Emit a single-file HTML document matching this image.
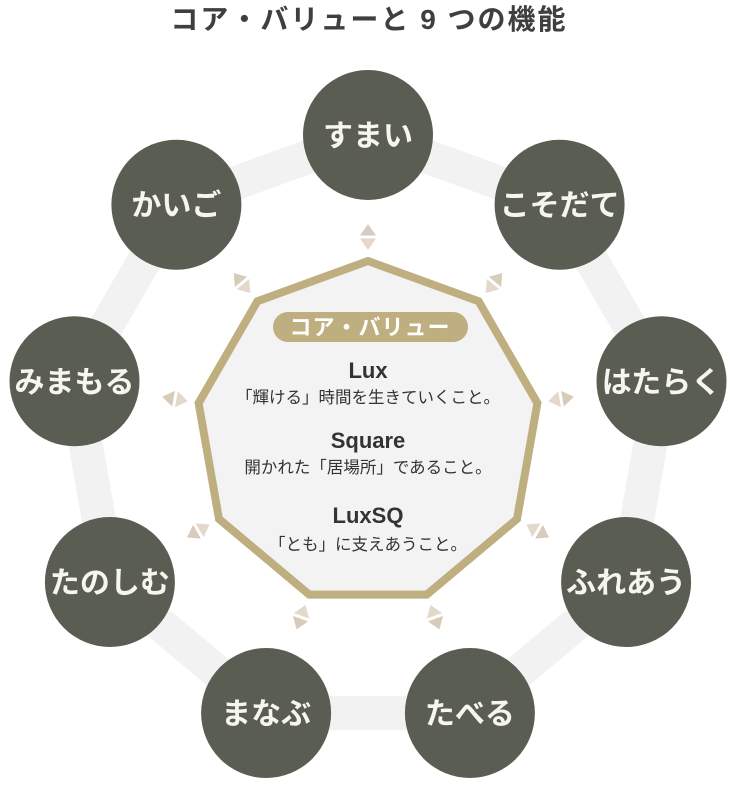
<!DOCTYPE html>
<html><head><meta charset="utf-8"><style>
html,body{margin:0;padding:0;background:#fff;}
svg{display:block;}
text{font-family:"Liberation Sans","Noto Sans CJK JP",sans-serif;}
</style></head><body>
<svg width="736" height="788" viewBox="0 0 736 788" xmlns="http://www.w3.org/2000/svg">
<text x="369" y="29" text-anchor="middle" font-size="28" font-weight="bold" fill="#3f3f3f" letter-spacing="2">コア・バリューと 9 つの機能</text>
<polygon points="368,135 559.6,204.7 661.5,381.3 626.1,582 469.9,713 266.1,713 109.9,582 74.5,381.3 176.4,204.7" fill="none" stroke="#f2f2f2" stroke-width="34" stroke-linejoin="round"/>
<polygon points="368,261 478.6,301.2 537.4,403.1 517,519 426.8,594.6 309.2,594.6 219,519 198.6,403.1 257.4,301.2" fill="#f3f3f3" stroke="#bfae7f" stroke-width="8" stroke-linejoin="miter"/>
<defs>
<g id="ar"><polygon points="0,-13 -8,-1.5 8,-1.5" fill="#d8cbbb"/><polygon points="0,13 -8,1.5 8,1.5" fill="#e2d8cc"/></g>
</defs>
<use href="#ar" transform="translate(368,237) rotate(0)"/>
<use href="#ar" transform="translate(494,283) rotate(40)"/>
<use href="#ar" transform="translate(561,399) rotate(80)"/>
<use href="#ar" transform="translate(537.7,531) rotate(120)"/>
<use href="#ar" transform="translate(435,617.2) rotate(160)"/>
<use href="#ar" transform="translate(301,617.2) rotate(200)"/>
<use href="#ar" transform="translate(198.3,531) rotate(240)"/>
<use href="#ar" transform="translate(175,399) rotate(280)"/>
<use href="#ar" transform="translate(242,283) rotate(320)"/>
<g fill="#595d52">
<circle cx="368" cy="135" r="65"/><circle cx="559.6" cy="204.7" r="65"/><circle cx="661.5" cy="381.3" r="65"/>
<circle cx="626.1" cy="582" r="65"/><circle cx="469.9" cy="713" r="65"/><circle cx="266.1" cy="713" r="65"/>
<circle cx="109.9" cy="582" r="65"/><circle cx="74.5" cy="381.3" r="65"/><circle cx="176.4" cy="204.7" r="65"/>
</g>
<g fill="#f7f5f0" font-size="30" font-weight="bold" text-anchor="middle">
<text x="368" y="146">すまい</text><text x="559.6" y="215.7">こそだて</text><text x="661.5" y="392.3">はたらく</text>
<text x="626.1" y="593">ふれあう</text><text x="469.9" y="724">たべる</text><text x="266.1" y="724">まなぶ</text>
<text x="109.9" y="593">たのしむ</text><text x="74.5" y="392.3">みまもる</text><text x="176.4" y="215.7">かいご</text>
</g>
<rect x="273" y="312" width="195" height="30" rx="15" fill="#bfae7f"/>
<text x="370" y="335" text-anchor="middle" font-size="22" font-weight="bold" fill="#fff" letter-spacing="1">コア・バリュー</text>
<g fill="#333" text-anchor="middle">
<text x="368" y="378" font-size="22" font-weight="bold">Lux</text>
<text x="368" y="403" font-size="16.5">「輝ける」時間を生きていくこと。</text>
<text x="368" y="448" font-size="22" font-weight="bold">Square</text>
<text x="368" y="473" font-size="16.5">開かれた「居場所」であること。</text>
<text x="368" y="523" font-size="22" font-weight="bold">LuxSQ</text>
<text x="368" y="550" font-size="16.5">「とも」に支えあうこと。</text>
</g>
</svg>
</body></html>
